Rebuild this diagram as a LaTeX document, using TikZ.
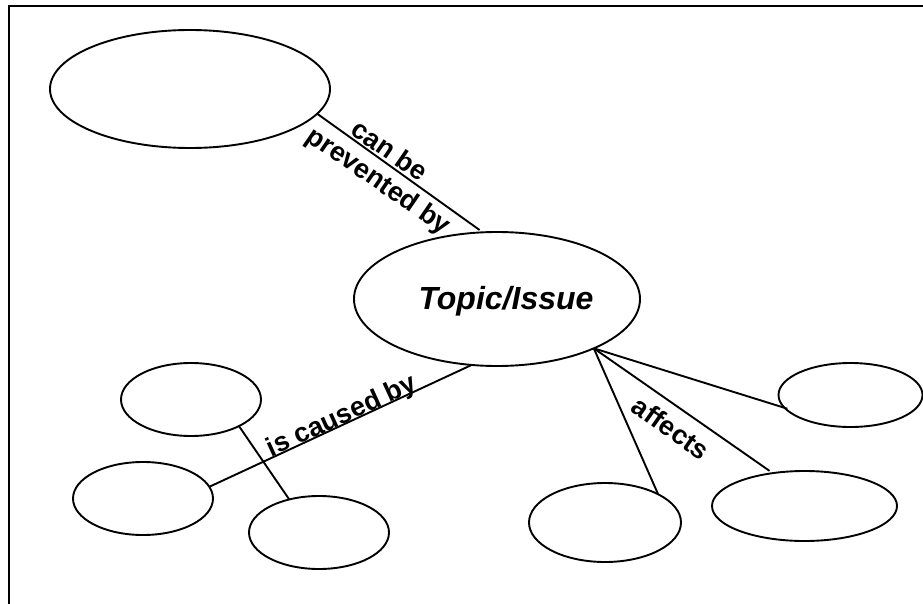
\documentclass[tikz,border=0pt]{standalone}
\usepackage{fontspec}
\setmainfont{Liberation Sans}
\usetikzlibrary{shapes.geometric}
\begin{document}
\begin{tikzpicture}[x=1pt,y=-1pt,
  bubble/.style={draw,ellipse,line width=1.9pt,inner sep=0pt,outer sep=0pt},
  link/.style={line width=1.9pt},
  lbl/.style={font=\fontsize{27}{29}\selectfont\bfseries,inner sep=0pt}]
\useasboundingbox (0,0) rectangle (923,604);
\draw[line width=2pt] (9,604) -- (9,6) -- (923,6);
\node[bubble,minimum width=280pt,minimum height=118pt] (prev) at (190,89) {};
\node[bubble,minimum width=286pt,minimum height=134pt] (topic) at (497,299) {};
\node[font=\fontsize{32}{34}\selectfont\bfseries\itshape,inner sep=0pt] (topiclabel) at (506,301) {Topic/Issue};
\node[bubble,minimum width=140pt,minimum height=73pt] (c1) at (191,399.5) {};
\node[bubble,minimum width=140pt,minimum height=73pt] (c2) at (143,498.5) {};
\node[bubble,minimum width=140pt,minimum height=73pt] (c3) at (319,532.5) {};
\node[bubble,minimum width=144pt,minimum height=64pt] (a1) at (850.5,395) {};
\node[bubble,minimum width=185pt,minimum height=70pt] (a2) at (804.5,506) {};
\node[bubble,minimum width=152pt,minimum height=79pt] (a3) at (605,522.5) {};
\draw[link,shorten >=4pt] (prev.-11) -- (topic.102);
\draw[link] (topic.249.5) -- (c2.10.6);
\draw[link] (c1.-29.4) -- (c3.132);
\coordinate (hub) at (topic.-27.3);
\draw[link] (hub) -- (a3.28.2);
\draw[link,shorten >=4pt] (hub) -- (a2.134.6);
\draw[link,shorten >=-3pt] (hub) -- (a1.191.7);
\node[lbl,rotate=-34.5] (lcan) at (390,150) {can be};
\node[lbl,rotate=-34.5] (lprev) at (378,182) {prevented by};
\node[lbl,rotate=24.6] (lcause) at (342,417) {is caused by};
\node[lbl,rotate=-35.4] (laff) at (671,428) {affects};
\end{tikzpicture}
\end{document}
